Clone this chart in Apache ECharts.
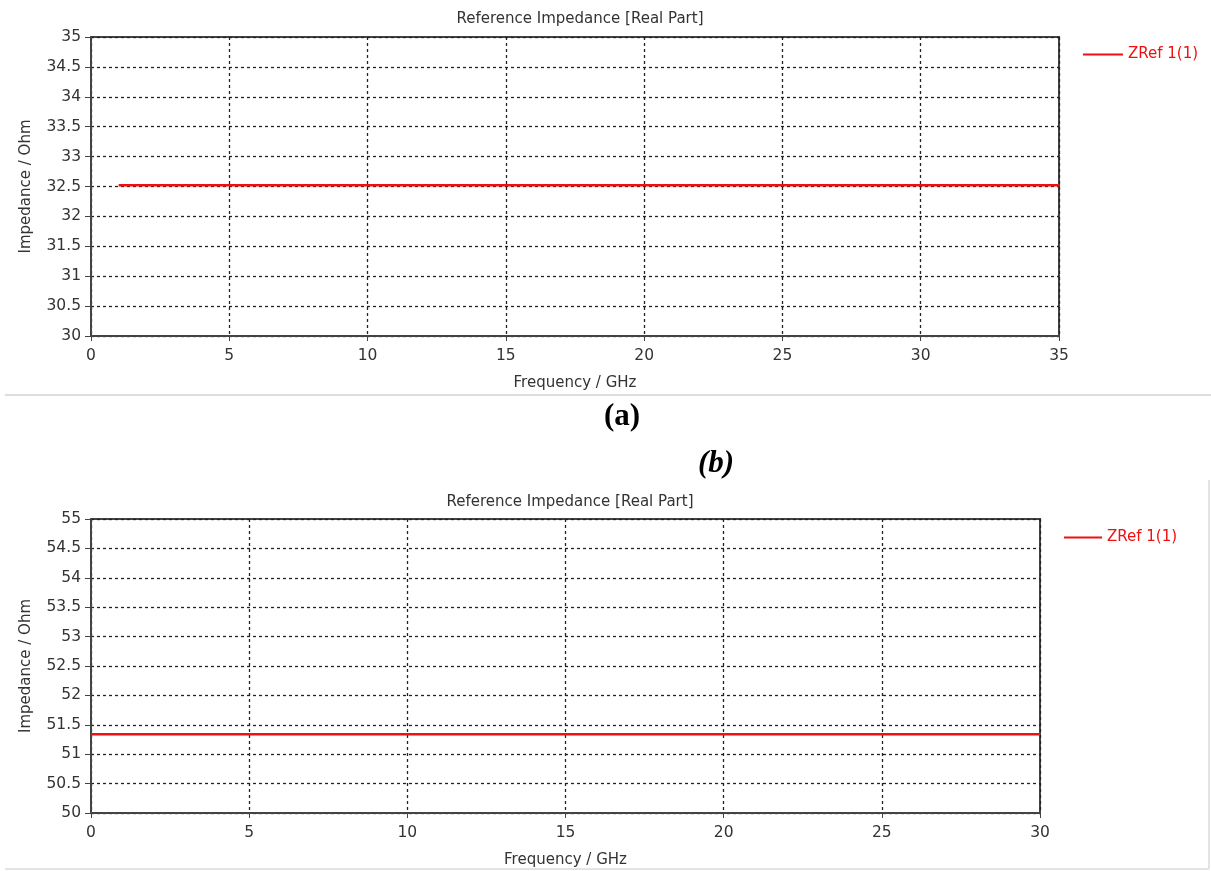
<!DOCTYPE html>
<html>
<head>
<meta charset="utf-8">
<script src="https://cdn.jsdelivr.net/npm/echarts@6/dist/echarts.min.js"></script>
<style>html,body{margin:0;padding:0;background:#fff}#c{width:1211px;height:871px}</style>
</head>
<body>
<div id="c"></div>
<script>
// Chart (a)
const freqA = [1, 35];
const zrefA = [32.52, 32.52];
const yTicksA = { min: 30, max: 35, interval: 0.5 };
const xTicksA = { min: 0, max: 35, interval: 5 };
// Chart (b)
const freqB = [0, 30];
const zrefB = [51.34, 51.34];
const yTicksB = { min: 50, max: 55, interval: 0.5 };
const xTicksB = { min: 0, max: 30, interval: 5 };

const seriesName = 'ZRef 1(1)';
const chartTitle = 'Reference Impedance [Real Part]';
const xName = 'Frequency / GHz';
const yName = 'Impedance / Ohm';

const FONT = 'DejaVu Sans';
const TXT = '#333';
const RED = '#f01010';

function mkX(idx, t) {
  return {
    type: 'value', gridIndex: idx, min: t.min, max: t.max, interval: t.interval,
    name: xName, nameLocation: 'middle', nameGap: 40,
    nameTextStyle: { fontFamily: FONT, fontSize: 15, color: TXT },
    axisLine: { show: true, lineStyle: { color: '#444', width: 2 } },
    axisTick: { show: true, length: 5, lineStyle: { color: '#444', width: 1 } },
    axisLabel: { fontFamily: FONT, fontSize: 15.5, color: TXT, margin: 12 },
    splitLine: { show: true, lineStyle: { color: '#222', type: [3, 3], width: 1.3 } }
  };
}
function mkY(idx, t) {
  return {
    type: 'value', gridIndex: idx, min: t.min, max: t.max, interval: t.interval,
    name: yName, nameLocation: 'middle', nameGap: 57, nameRotate: 90,
    nameTextStyle: { fontFamily: FONT, fontSize: 15, color: TXT },
    axisLine: { show: true, lineStyle: { color: '#444', width: 2 } },
    axisTick: { show: true, length: 6, lineStyle: { color: '#444', width: 1 } },
    axisLabel: { fontFamily: FONT, fontSize: 15.5, color: TXT, margin: 10 },
    splitLine: { show: true, lineStyle: { color: '#222', type: [3, 3], width: 1.3 } }
  };
}

const chart = echarts.init(document.getElementById('c'), null, { renderer: 'canvas' });
chart.setOption({
  backgroundColor: '#fff',
  animation: false,
  title: [
    { text: chartTitle, left: 575, top: 7, textAlign: 'center',
      textStyle: { fontFamily: FONT, fontSize: 15, fontWeight: 'normal', color: TXT } },
    { text: chartTitle, left: 565, top: 490, textAlign: 'center',
      textStyle: { fontFamily: FONT, fontSize: 15, fontWeight: 'normal', color: TXT } },
    { text: '(a)', left: 617, top: 396, textAlign: 'center',
      textStyle: { fontFamily: 'Liberation Serif', fontSize: 31, fontWeight: 'bold', color: '#000' } },
    { text: '(b)', left: 711, top: 443, textAlign: 'center',
      textStyle: { fontFamily: 'Liberation Serif', fontSize: 31, fontWeight: 'bold', fontStyle: 'italic', color: '#000' } }
  ],
  legend: [
    { data: [seriesName], left: 1078, top: 42, itemWidth: 40, itemHeight: 2, icon: 'rect', itemGap: 6,
      textStyle: { fontFamily: FONT, fontSize: 15, color: RED }, selectedMode: false },
    { data: [seriesName], left: 1059, top: 525, itemWidth: 38, itemHeight: 2, icon: 'rect',
      textStyle: { fontFamily: FONT, fontSize: 15, color: RED }, selectedMode: false }
  ],
  grid: [
    { left: 91, top: 37, width: 968, height: 299, show: true, borderColor: '#444', borderWidth: 2 },
    { left: 91, top: 519, width: 949, height: 294, show: true, borderColor: '#444', borderWidth: 2 }
  ],
  xAxis: [mkX(0, xTicksA), mkX(1, xTicksB)],
  yAxis: [mkY(0, yTicksA), mkY(1, yTicksB)],
  series: [
    { name: seriesName, type: 'line', xAxisIndex: 0, yAxisIndex: 0, showSymbol: false,
      data: freqA.map((f, i) => [f, zrefA[i]]), lineStyle: { color: RED, width: 2.5 }, itemStyle: { color: RED } },
    { name: seriesName, type: 'line', xAxisIndex: 1, yAxisIndex: 1, showSymbol: false,
      data: freqB.map((f, i) => [f, zrefB[i]]), lineStyle: { color: RED, width: 2.5 }, itemStyle: { color: RED } }
  ],
  graphic: [
    { type: 'line', shape: { x1: 5, y1: 395, x2: 1211, y2: 395 }, style: { stroke: '#ddd', lineWidth: 2 } },
    { type: 'line', shape: { x1: 5, y1: 869, x2: 1209, y2: 869 }, style: { stroke: '#e4e4e4', lineWidth: 2 } },
    { type: 'line', shape: { x1: 1209, y1: 480, x2: 1209, y2: 869 }, style: { stroke: '#e4e4e4', lineWidth: 2 } }
  ]
});
</script>
</body>
</html>
